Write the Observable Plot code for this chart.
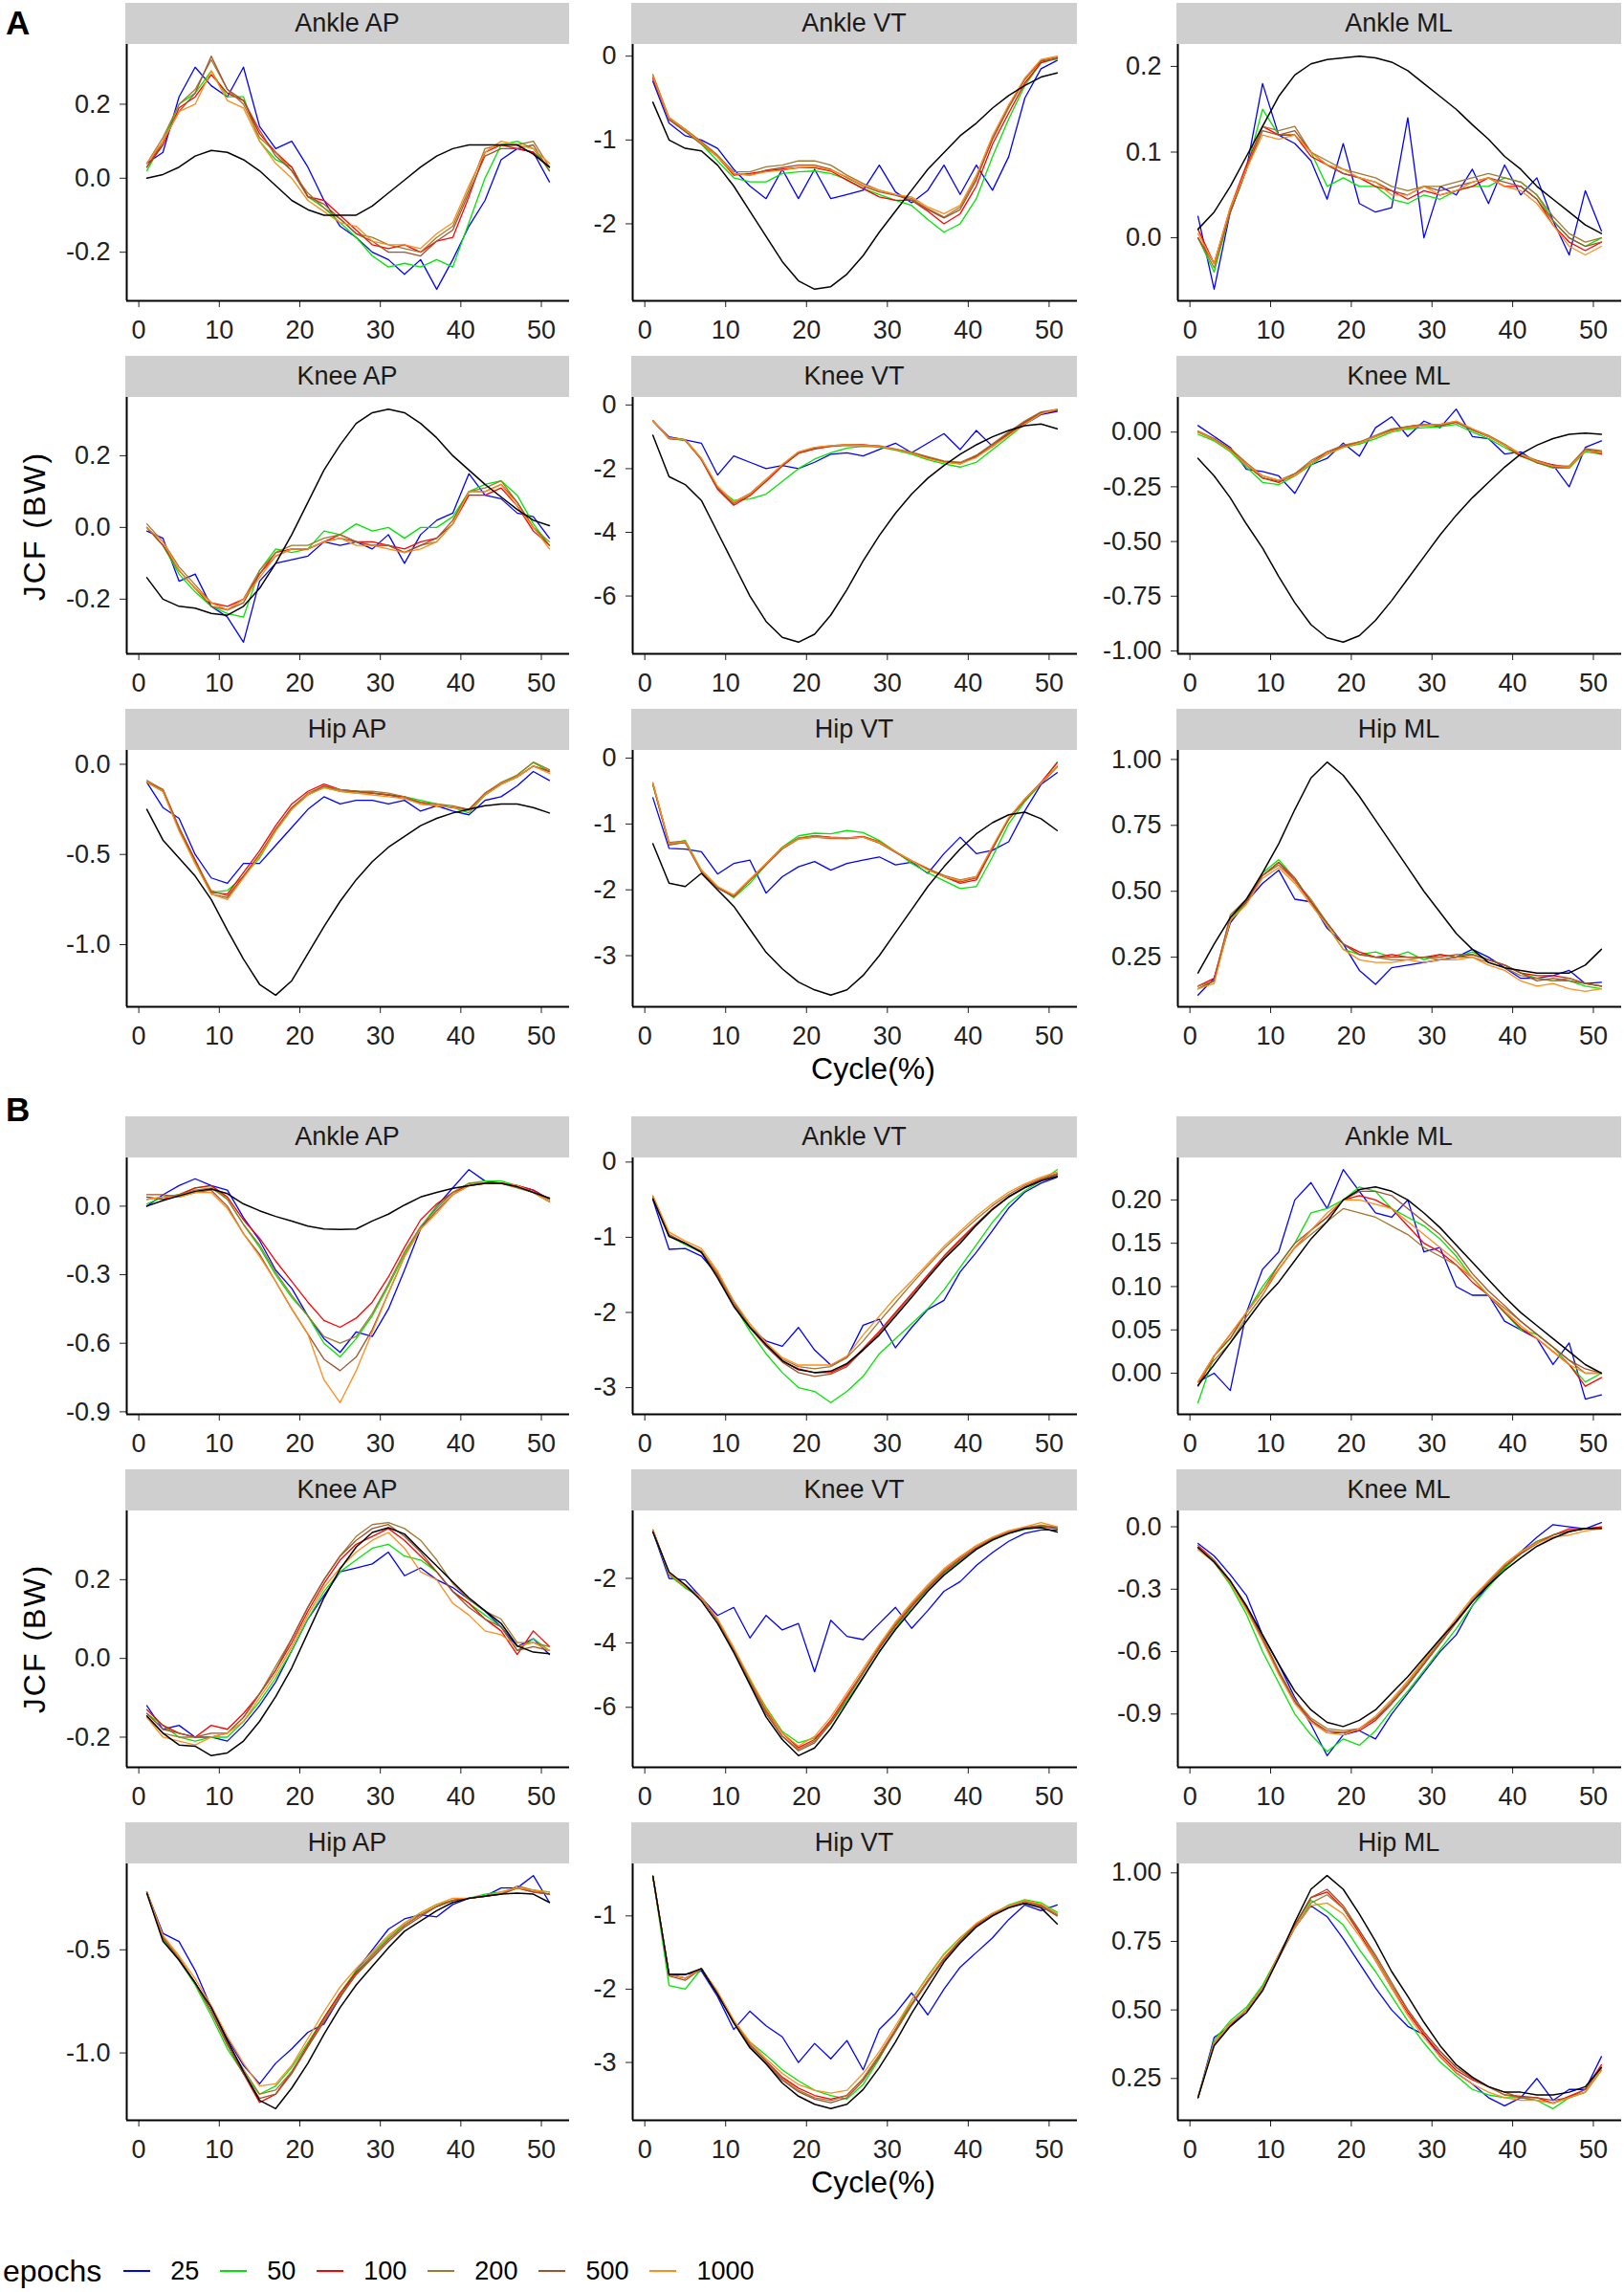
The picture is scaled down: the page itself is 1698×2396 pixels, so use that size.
<!DOCTYPE html>
<html><head><meta charset="utf-8">
<script src="https://cdn.jsdelivr.net/npm/d3@7"></script>
<script src="https://cdn.jsdelivr.net/npm/@observablehq/plot@0.6"></script>
<style>
body{margin:0;background:#fff;}
#root{position:relative;width:1698px;height:2396px;font-family:"Liberation Sans",Arial,sans-serif;color:#000;overflow:hidden;background:#fff}
.strip{position:absolute;background:#cfcfcf;height:43px;display:flex;align-items:center;justify-content:center;font-size:27px;color:#1a1a1a;line-height:1}
.wrap{position:absolute}
.lab{position:absolute;white-space:nowrap;line-height:1}
</style></head><body><div id="root"></div>
<script>
// ---------------- DATA ----------------
var cycle = [1,3,5,7,9,11,13,15,17,19,21,23,25,27,29,31,33,35,37,39,41,43,45,47,49,51];
var cycleTicks = [0,10,20,30,40,50];
var epochs = ["25","50","100","200","500","1000"];
var epochColors = ["#0000ff","#00e600","#ff0000","#a07830","#a0522d","#ff8c1a"];
var joints = ["Ankle","Knee","Hip"];
var directions = ["AP","VT","ML"];

// ===== A =====
var A_AnkleAP_truth=[0.0,0.01,0.03,0.06,0.075,0.07,0.05,0.02,-0.02,-0.06,-0.085,-0.1,-0.1,-0.1,-0.075,-0.04,-0.005,0.03,0.06,0.08,0.09,0.09,0.09,0.09,0.065,0.03];
var A_AnkleAP_e25=[0.04,0.07,0.22,0.3,0.25,0.22,0.3,0.14,0.08,0.1,0.03,-0.06,-0.13,-0.16,-0.2,-0.22,-0.26,-0.22,-0.3,-0.22,-0.13,-0.06,0.05,0.08,0.07,-0.01];
var A_AnkleAP_e50=[0.02,0.1,0.2,0.23,0.29,0.22,0.22,0.1,0.05,0.03,-0.05,-0.08,-0.12,-0.16,-0.21,-0.24,-0.23,-0.24,-0.22,-0.24,-0.12,0.0,0.09,0.1,0.08,0.02];
var A_AnkleAP_e100=[0.03,0.09,0.19,0.22,0.28,0.23,0.21,0.12,0.07,0.03,-0.05,-0.06,-0.1,-0.14,-0.18,-0.19,-0.18,-0.2,-0.17,-0.16,-0.05,0.07,0.09,0.08,0.07,0.03];
var A_AnkleAP_e200=[0.04,0.11,0.2,0.24,0.32,0.24,0.2,0.11,0.07,0.02,-0.04,-0.08,-0.11,-0.15,-0.16,-0.18,-0.19,-0.2,-0.16,-0.13,-0.03,0.08,0.09,0.09,0.1,0.03];
var A_AnkleAP_e500=[0.03,0.1,0.18,0.23,0.33,0.24,0.21,0.13,0.06,0.02,-0.05,-0.07,-0.11,-0.15,-0.17,-0.2,-0.2,-0.21,-0.17,-0.14,-0.04,0.06,0.08,0.08,0.09,0.02];
var A_AnkleAP_e1000=[0.04,0.1,0.18,0.2,0.29,0.21,0.19,0.1,0.04,0.0,-0.06,-0.09,-0.12,-0.13,-0.17,-0.18,-0.18,-0.19,-0.15,-0.12,-0.02,0.07,0.1,0.09,0.08,0.04];
var A_AnkleAP_ticks=[-0.2,0,0.2]; var A_AnkleAP_labels=["-0.2","0.0","0.2"];

var A_AnkleVT_truth=[-0.55,-1.0,-1.1,-1.13,-1.3,-1.55,-1.85,-2.15,-2.45,-2.68,-2.78,-2.75,-2.6,-2.38,-2.1,-1.85,-1.6,-1.35,-1.15,-0.95,-0.8,-0.62,-0.47,-0.35,-0.25,-0.2];
var A_AnkleVT_e25=[-0.3,-0.8,-0.95,-1.0,-1.1,-1.35,-1.55,-1.7,-1.35,-1.7,-1.35,-1.7,-1.65,-1.6,-1.3,-1.62,-1.75,-1.6,-1.3,-1.65,-1.3,-1.6,-1.2,-0.5,-0.15,-0.05];
var A_AnkleVT_e50=[-0.25,-0.75,-0.9,-1.05,-1.25,-1.45,-1.5,-1.5,-1.4,-1.38,-1.37,-1.4,-1.47,-1.58,-1.65,-1.72,-1.78,-1.95,-2.1,-2.0,-1.7,-1.2,-0.75,-0.35,-0.08,-0.03];
var A_AnkleVT_e100=[-0.27,-0.75,-0.88,-1.03,-1.2,-1.42,-1.4,-1.37,-1.35,-1.33,-1.33,-1.37,-1.48,-1.58,-1.68,-1.72,-1.72,-1.85,-2.0,-1.88,-1.55,-1.05,-0.68,-0.32,-0.08,-0.02];
var A_AnkleVT_e200=[-0.22,-0.73,-0.87,-1.02,-1.18,-1.38,-1.38,-1.32,-1.3,-1.25,-1.25,-1.3,-1.42,-1.52,-1.6,-1.65,-1.7,-1.82,-1.92,-1.8,-1.45,-1.0,-0.62,-0.28,-0.05,-0.01];
var A_AnkleVT_e500=[-0.25,-0.76,-0.9,-1.05,-1.2,-1.4,-1.42,-1.36,-1.33,-1.3,-1.3,-1.35,-1.45,-1.55,-1.62,-1.66,-1.72,-1.83,-1.93,-1.83,-1.48,-0.98,-0.6,-0.27,-0.06,-0.03];
var A_AnkleVT_e1000=[-0.24,-0.74,-0.88,-1.04,-1.2,-1.4,-1.42,-1.38,-1.36,-1.33,-1.32,-1.36,-1.44,-1.54,-1.6,-1.65,-1.68,-1.8,-1.88,-1.78,-1.42,-0.95,-0.58,-0.26,-0.04,0.0];
var A_AnkleVT_ticks=[-2,-1,0]; var A_AnkleVT_labels=["-2","-1","0"];

var A_AnkleML_truth=[0.01,0.03,0.06,0.095,0.13,0.165,0.19,0.203,0.208,0.21,0.212,0.21,0.205,0.195,0.18,0.165,0.15,0.132,0.115,0.095,0.08,0.06,0.045,0.03,0.015,0.005];
var A_AnkleML_e25=[0.025,-0.06,0.03,0.08,0.18,0.12,0.11,0.09,0.045,0.11,0.04,0.03,0.035,0.14,0.0,0.06,0.05,0.08,0.04,0.085,0.05,0.07,0.02,-0.02,0.055,0.008];
var A_AnkleML_e50=[0.0,-0.04,0.03,0.08,0.15,0.12,0.12,0.1,0.06,0.07,0.06,0.06,0.045,0.04,0.05,0.045,0.055,0.06,0.06,0.07,0.065,0.05,0.02,0.0,-0.01,0.0];
var A_AnkleML_e100=[0.01,-0.03,0.035,0.085,0.13,0.12,0.12,0.095,0.085,0.075,0.07,0.06,0.055,0.045,0.055,0.05,0.055,0.06,0.07,0.06,0.06,0.045,0.015,-0.005,-0.015,-0.005];
var A_AnkleML_e200=[0.0,-0.035,0.03,0.08,0.13,0.125,0.13,0.1,0.09,0.08,0.075,0.07,0.06,0.055,0.06,0.06,0.065,0.07,0.075,0.07,0.065,0.05,0.025,0.005,-0.005,0.0];
var A_AnkleML_e500=[0.0,-0.03,0.03,0.08,0.125,0.12,0.125,0.1,0.085,0.075,0.07,0.065,0.055,0.05,0.06,0.055,0.06,0.065,0.07,0.065,0.06,0.045,0.02,0.0,-0.01,-0.005];
var A_AnkleML_e1000=[0.005,-0.03,0.035,0.08,0.12,0.115,0.12,0.1,0.085,0.08,0.07,0.065,0.05,0.05,0.06,0.05,0.055,0.065,0.07,0.06,0.055,0.04,0.015,-0.01,-0.02,-0.01];
var A_AnkleML_ticks=[0,0.1,0.2]; var A_AnkleML_labels=["0.0","0.1","0.2"];

var A_KneeAP_truth=[-0.14,-0.2,-0.22,-0.225,-0.24,-0.245,-0.22,-0.17,-0.1,-0.02,0.07,0.16,0.23,0.29,0.32,0.33,0.32,0.29,0.25,0.2,0.16,0.12,0.085,0.05,0.02,0.005];
var A_KneeAP_e25=[-0.01,-0.03,-0.15,-0.13,-0.22,-0.25,-0.32,-0.15,-0.1,-0.09,-0.08,-0.04,-0.05,-0.04,-0.06,-0.02,-0.1,-0.02,0.02,0.04,0.15,0.09,0.08,0.04,0.03,-0.03];
var A_KneeAP_e50=[0.0,-0.05,-0.13,-0.18,-0.22,-0.24,-0.25,-0.12,-0.06,-0.07,-0.06,-0.01,-0.02,0.01,-0.01,0.0,-0.03,0.0,0.0,0.03,0.1,0.12,0.13,0.09,0.01,-0.05];
var A_KneeAP_e100=[0.0,-0.05,-0.12,-0.17,-0.21,-0.22,-0.2,-0.13,-0.07,-0.06,-0.06,-0.04,-0.02,-0.04,-0.04,-0.05,-0.06,-0.04,-0.03,0.01,0.09,0.09,0.11,0.06,-0.01,-0.05];
var A_KneeAP_e200=[0.01,-0.04,-0.11,-0.16,-0.21,-0.23,-0.2,-0.12,-0.07,-0.05,-0.05,-0.03,-0.02,-0.04,-0.05,-0.05,-0.07,-0.05,-0.04,0.01,0.1,0.11,0.13,0.07,0.0,-0.04];
var A_KneeAP_e500=[0.0,-0.05,-0.12,-0.17,-0.22,-0.23,-0.21,-0.13,-0.08,-0.06,-0.06,-0.04,-0.03,-0.04,-0.05,-0.05,-0.07,-0.05,-0.03,0.02,0.1,0.1,0.12,0.07,0.0,-0.05];
var A_KneeAP_e1000=[0.0,-0.04,-0.12,-0.17,-0.21,-0.23,-0.2,-0.14,-0.08,-0.06,-0.06,-0.04,-0.03,-0.05,-0.05,-0.06,-0.07,-0.06,-0.04,0.01,0.1,0.1,0.12,0.06,0.0,-0.06];
var A_KneeAP_ticks=[-0.2,0,0.2]; var A_KneeAP_labels=["-0.2","0.0","0.2"];

var A_KneeVT_truth=[-0.95,-2.25,-2.5,-3.0,-4.0,-5.0,-6.0,-6.8,-7.3,-7.45,-7.2,-6.6,-5.8,-4.9,-4.1,-3.4,-2.8,-2.3,-1.9,-1.55,-1.25,-1.0,-0.8,-0.65,-0.6,-0.75];
var A_KneeVT_e25=[-0.5,-1.0,-1.1,-1.2,-2.2,-1.6,-1.8,-2.0,-1.9,-2.0,-1.8,-1.55,-1.5,-1.6,-1.4,-1.2,-1.5,-1.2,-0.9,-1.4,-0.8,-1.3,-0.9,-0.6,-0.3,-0.2];
var A_KneeVT_e50=[-0.5,-1.05,-1.12,-1.7,-2.6,-3.0,-2.95,-2.8,-2.4,-2.0,-1.7,-1.5,-1.35,-1.3,-1.32,-1.42,-1.55,-1.72,-1.85,-1.95,-1.8,-1.4,-1.0,-0.6,-0.25,-0.15];
var A_KneeVT_e100=[-0.5,-1.05,-1.1,-1.72,-2.65,-3.15,-2.85,-2.4,-1.92,-1.52,-1.38,-1.3,-1.25,-1.25,-1.3,-1.4,-1.5,-1.65,-1.78,-1.85,-1.62,-1.3,-0.92,-0.55,-0.25,-0.17];
var A_KneeVT_e200=[-0.5,-1.03,-1.08,-1.68,-2.58,-3.05,-2.78,-2.33,-1.88,-1.48,-1.34,-1.28,-1.24,-1.26,-1.28,-1.38,-1.48,-1.62,-1.76,-1.8,-1.58,-1.22,-0.85,-0.5,-0.22,-0.14];
var A_KneeVT_e500=[-0.5,-1.06,-1.1,-1.7,-2.62,-3.1,-2.82,-2.36,-1.9,-1.5,-1.36,-1.3,-1.27,-1.28,-1.3,-1.4,-1.5,-1.66,-1.78,-1.83,-1.6,-1.25,-0.88,-0.53,-0.24,-0.15];
var A_KneeVT_e1000=[-0.5,-1.04,-1.1,-1.68,-2.55,-3.05,-2.8,-2.35,-1.87,-1.47,-1.33,-1.28,-1.25,-1.27,-1.3,-1.4,-1.52,-1.68,-1.8,-1.85,-1.65,-1.3,-0.95,-0.6,-0.28,-0.13];
var A_KneeVT_ticks=[-6,-4,-2,0]; var A_KneeVT_labels=["-6","-4","-2","0"];

var A_KneeML_truth=[-0.12,-0.2,-0.3,-0.42,-0.53,-0.66,-0.78,-0.88,-0.94,-0.96,-0.93,-0.86,-0.77,-0.67,-0.57,-0.47,-0.38,-0.3,-0.23,-0.16,-0.1,-0.06,-0.03,-0.01,-0.005,-0.01];
var A_KneeML_e25=[0.03,-0.02,-0.07,-0.17,-0.18,-0.2,-0.28,-0.15,-0.12,-0.05,-0.11,0.02,0.07,-0.02,0.05,0.02,0.105,-0.02,-0.03,-0.1,-0.09,-0.14,-0.15,-0.25,-0.07,-0.04];
var A_KneeML_e50=[-0.01,-0.04,-0.09,-0.16,-0.23,-0.24,-0.2,-0.15,-0.1,-0.07,-0.055,-0.03,0.0,0.015,0.02,0.025,0.035,0.0,-0.03,-0.07,-0.11,-0.14,-0.165,-0.165,-0.09,-0.1];
var A_KneeML_e100=[0.0,-0.03,-0.08,-0.15,-0.21,-0.23,-0.19,-0.14,-0.09,-0.065,-0.045,-0.02,0.01,0.025,0.035,0.03,0.045,0.01,-0.02,-0.06,-0.11,-0.13,-0.15,-0.16,-0.08,-0.1];
var A_KneeML_e200=[0.005,-0.03,-0.075,-0.14,-0.2,-0.22,-0.19,-0.13,-0.09,-0.06,-0.045,-0.015,0.015,0.025,0.035,0.035,0.05,0.015,-0.015,-0.055,-0.1,-0.13,-0.155,-0.155,-0.075,-0.085];
var A_KneeML_e500=[0.0,-0.035,-0.08,-0.15,-0.21,-0.225,-0.2,-0.14,-0.1,-0.065,-0.05,-0.02,0.01,0.02,0.03,0.03,0.045,0.01,-0.02,-0.06,-0.105,-0.14,-0.16,-0.16,-0.08,-0.09];
var A_KneeML_e1000=[0.0,-0.035,-0.085,-0.15,-0.2,-0.22,-0.2,-0.14,-0.1,-0.07,-0.05,-0.02,0.005,0.02,0.03,0.035,0.05,0.015,-0.02,-0.06,-0.1,-0.135,-0.155,-0.16,-0.085,-0.095];
var A_KneeML_ticks=[-1,-0.75,-0.5,-0.25,0]; var A_KneeML_labels=["-1.00","-0.75","-0.50","-0.25","0.00"];

var A_HipAP_truth=[-0.25,-0.42,-0.52,-0.62,-0.75,-0.92,-1.08,-1.22,-1.28,-1.2,-1.05,-0.9,-0.76,-0.64,-0.54,-0.46,-0.4,-0.34,-0.3,-0.27,-0.25,-0.23,-0.22,-0.22,-0.24,-0.27];
var A_HipAP_e25=[-0.1,-0.24,-0.3,-0.5,-0.63,-0.66,-0.55,-0.55,-0.45,-0.35,-0.25,-0.18,-0.22,-0.2,-0.2,-0.22,-0.2,-0.26,-0.23,-0.26,-0.28,-0.2,-0.18,-0.12,-0.04,-0.09];
var A_HipAP_e50=[-0.1,-0.15,-0.36,-0.55,-0.71,-0.7,-0.62,-0.52,-0.37,-0.25,-0.17,-0.13,-0.15,-0.16,-0.16,-0.17,-0.18,-0.2,-0.22,-0.24,-0.27,-0.17,-0.11,-0.06,0.01,-0.04];
var A_HipAP_e100=[-0.1,-0.14,-0.35,-0.53,-0.71,-0.72,-0.6,-0.48,-0.34,-0.22,-0.15,-0.11,-0.14,-0.15,-0.16,-0.17,-0.18,-0.22,-0.23,-0.24,-0.25,-0.16,-0.11,-0.07,-0.01,-0.04];
var A_HipAP_e200=[-0.09,-0.14,-0.35,-0.54,-0.7,-0.73,-0.62,-0.5,-0.36,-0.24,-0.16,-0.12,-0.14,-0.15,-0.15,-0.16,-0.18,-0.21,-0.22,-0.23,-0.25,-0.16,-0.1,-0.06,0.012,-0.03];
var A_HipAP_e500=[-0.1,-0.15,-0.36,-0.54,-0.72,-0.74,-0.62,-0.5,-0.36,-0.24,-0.17,-0.12,-0.15,-0.15,-0.16,-0.17,-0.19,-0.21,-0.23,-0.24,-0.25,-0.17,-0.11,-0.07,-0.01,-0.04];
var A_HipAP_e1000=[-0.1,-0.15,-0.37,-0.55,-0.72,-0.75,-0.63,-0.51,-0.37,-0.25,-0.17,-0.13,-0.15,-0.16,-0.17,-0.18,-0.19,-0.22,-0.23,-0.24,-0.26,-0.17,-0.11,-0.07,-0.01,-0.05];
var A_HipAP_ticks=[-1,-0.5,0]; var A_HipAP_labels=["-1.0","-0.5","0.0"];

var A_HipVT_truth=[-1.3,-1.9,-1.95,-1.75,-2.0,-2.25,-2.6,-2.95,-3.2,-3.4,-3.52,-3.6,-3.52,-3.3,-3.0,-2.65,-2.3,-1.95,-1.65,-1.38,-1.15,-0.98,-0.86,-0.82,-0.92,-1.1];
var A_HipVT_e25=[-0.6,-1.37,-1.38,-1.42,-1.76,-1.6,-1.55,-2.05,-1.8,-1.65,-1.57,-1.7,-1.6,-1.55,-1.5,-1.62,-1.58,-1.75,-1.45,-1.2,-1.45,-1.4,-1.27,-0.8,-0.4,-0.22];
var A_HipVT_e50=[-0.4,-1.3,-1.25,-1.7,-1.95,-2.12,-1.9,-1.62,-1.35,-1.18,-1.14,-1.15,-1.1,-1.13,-1.25,-1.42,-1.6,-1.74,-1.86,-1.98,-1.95,-1.5,-1.0,-0.66,-0.38,-0.06];
var A_HipVT_e100=[-0.38,-1.3,-1.28,-1.72,-1.97,-2.1,-1.85,-1.6,-1.36,-1.22,-1.18,-1.2,-1.21,-1.19,-1.27,-1.42,-1.56,-1.68,-1.8,-1.9,-1.85,-1.38,-0.92,-0.62,-0.37,-0.07];
var A_HipVT_e200=[-0.39,-1.28,-1.26,-1.71,-1.96,-2.08,-1.84,-1.6,-1.36,-1.21,-1.18,-1.21,-1.22,-1.2,-1.28,-1.43,-1.57,-1.68,-1.78,-1.85,-1.8,-1.35,-0.92,-0.63,-0.38,-0.13];
var A_HipVT_e500=[-0.4,-1.32,-1.28,-1.73,-1.97,-2.1,-1.86,-1.62,-1.38,-1.23,-1.2,-1.22,-1.22,-1.2,-1.29,-1.43,-1.57,-1.69,-1.8,-1.88,-1.82,-1.36,-0.93,-0.64,-0.39,-0.13];
var A_HipVT_e1000=[-0.37,-1.3,-1.27,-1.7,-1.95,-2.08,-1.84,-1.6,-1.36,-1.23,-1.2,-1.21,-1.21,-1.2,-1.28,-1.42,-1.56,-1.7,-1.8,-1.86,-1.8,-1.34,-0.9,-0.62,-0.38,-0.12];
var A_HipVT_ticks=[-3,-2,-1,0]; var A_HipVT_labels=["-3","-2","-1","0"];

var A_HipML_truth=[0.19,0.3,0.4,0.47,0.57,0.68,0.81,0.93,0.99,0.94,0.86,0.77,0.68,0.59,0.5,0.42,0.34,0.28,0.23,0.21,0.2,0.19,0.19,0.19,0.22,0.28];
var A_HipML_e25=[0.106,0.17,0.38,0.46,0.53,0.58,0.47,0.46,0.36,0.3,0.2,0.147,0.21,0.22,0.23,0.24,0.25,0.28,0.25,0.21,0.17,0.17,0.18,0.2,0.15,0.155];
var A_HipML_e50=[0.13,0.16,0.39,0.46,0.57,0.62,0.55,0.46,0.37,0.28,0.26,0.27,0.25,0.27,0.24,0.26,0.25,0.27,0.24,0.22,0.19,0.17,0.16,0.16,0.14,0.13];
var A_HipML_e100=[0.14,0.17,0.4,0.46,0.56,0.61,0.54,0.46,0.38,0.3,0.27,0.25,0.26,0.25,0.25,0.26,0.25,0.26,0.24,0.22,0.19,0.18,0.18,0.17,0.15,0.14];
var A_HipML_e200=[0.14,0.16,0.41,0.47,0.56,0.6,0.54,0.47,0.38,0.3,0.26,0.25,0.24,0.24,0.25,0.24,0.25,0.25,0.23,0.21,0.18,0.17,0.16,0.17,0.15,0.14];
var A_HipML_e500=[0.13,0.16,0.4,0.46,0.56,0.61,0.55,0.46,0.38,0.3,0.26,0.25,0.25,0.25,0.25,0.25,0.26,0.26,0.24,0.22,0.19,0.16,0.17,0.16,0.15,0.14];
var A_HipML_e1000=[0.13,0.15,0.39,0.45,0.55,0.59,0.53,0.45,0.37,0.28,0.24,0.23,0.23,0.24,0.23,0.24,0.24,0.25,0.22,0.2,0.16,0.14,0.15,0.13,0.12,0.13];
var A_HipML_ticks=[0.25,0.5,0.75,1]; var A_HipML_labels=["0.25","0.50","0.75","1.00"];

// ===== B =====
var B_AnkleAP_truth=[0.0,0.025,0.045,0.065,0.075,0.055,0.01,-0.02,-0.045,-0.065,-0.087,-0.1,-0.102,-0.1,-0.065,-0.035,0.005,0.04,0.06,0.078,0.09,0.1,0.1,0.085,0.06,0.035];
var B_AnkleAP_e25=[0.0,0.05,0.09,0.12,0.09,0.07,-0.05,-0.15,-0.28,-0.36,-0.48,-0.58,-0.64,-0.55,-0.57,-0.45,-0.28,-0.1,0.0,0.08,0.16,0.11,0.1,0.09,0.07,0.03];
var B_AnkleAP_e50=[0.01,0.04,0.05,0.08,0.09,0.03,-0.08,-0.18,-0.3,-0.4,-0.48,-0.6,-0.66,-0.58,-0.48,-0.35,-0.21,-0.09,0.0,0.06,0.1,0.11,0.11,0.09,0.06,0.02];
var B_AnkleAP_e100=[0.04,0.03,0.05,0.08,0.09,0.04,-0.06,-0.14,-0.24,-0.33,-0.42,-0.5,-0.53,-0.49,-0.42,-0.31,-0.18,-0.06,0.01,0.06,0.09,0.1,0.1,0.09,0.07,0.03];
var B_AnkleAP_e200=[0.03,0.04,0.05,0.07,0.08,0.03,-0.08,-0.17,-0.29,-0.39,-0.48,-0.57,-0.6,-0.57,-0.47,-0.34,-0.2,-0.09,-0.01,0.06,0.1,0.1,0.1,0.08,0.06,0.03];
var B_AnkleAP_e500=[0.05,0.05,0.04,0.06,0.07,0.0,-0.12,-0.21,-0.33,-0.45,-0.56,-0.67,-0.72,-0.66,-0.54,-0.38,-0.22,-0.1,-0.02,0.05,0.09,0.1,0.1,0.09,0.06,0.02];
var B_AnkleAP_e1000=[0.03,0.04,0.04,0.06,0.06,-0.01,-0.12,-0.22,-0.33,-0.45,-0.56,-0.76,-0.86,-0.72,-0.55,-0.38,-0.22,-0.1,-0.03,0.05,0.09,0.1,0.1,0.09,0.06,0.02];
var B_AnkleAP_ticks=[-0.9,-0.6,-0.3,0]; var B_AnkleAP_labels=["-0.9","-0.6","-0.3","0.0"];

var B_AnkleVT_truth=[-0.49,-0.99,-1.08,-1.2,-1.54,-1.92,-2.2,-2.43,-2.64,-2.76,-2.8,-2.78,-2.68,-2.5,-2.3,-2.05,-1.8,-1.54,-1.29,-1.08,-0.84,-0.63,-0.46,-0.34,-0.25,-0.19];
var B_AnkleVT_e25=[-0.5,-1.16,-1.15,-1.25,-1.5,-1.85,-2.2,-2.38,-2.45,-2.2,-2.5,-2.7,-2.6,-2.17,-2.09,-2.47,-2.2,-1.96,-1.84,-1.46,-1.2,-0.91,-0.61,-0.4,-0.28,-0.2];
var B_AnkleVT_e50=[-0.47,-0.98,-1.1,-1.2,-1.5,-1.9,-2.25,-2.55,-2.8,-3.0,-3.05,-3.2,-3.05,-2.85,-2.55,-2.35,-2.15,-1.95,-1.7,-1.4,-1.1,-0.8,-0.55,-0.38,-0.25,-0.1];
var B_AnkleVT_e100=[-0.47,-0.97,-1.08,-1.2,-1.5,-1.9,-2.2,-2.45,-2.65,-2.75,-2.8,-2.8,-2.7,-2.48,-2.25,-2.0,-1.75,-1.5,-1.25,-1.03,-0.82,-0.62,-0.46,-0.33,-0.23,-0.16];
var B_AnkleVT_e200=[-0.45,-0.96,-1.08,-1.18,-1.48,-1.88,-2.18,-2.42,-2.62,-2.72,-2.75,-2.72,-2.6,-2.38,-2.12,-1.87,-1.62,-1.38,-1.15,-0.95,-0.76,-0.58,-0.43,-0.31,-0.22,-0.15];
var B_AnkleVT_e500=[-0.47,-0.97,-1.08,-1.2,-1.52,-1.9,-2.2,-2.45,-2.66,-2.8,-2.85,-2.82,-2.72,-2.5,-2.27,-2.02,-1.77,-1.52,-1.27,-1.05,-0.83,-0.63,-0.47,-0.34,-0.24,-0.17];
var B_AnkleVT_e1000=[-0.45,-0.93,-1.05,-1.15,-1.45,-1.85,-2.15,-2.4,-2.6,-2.7,-2.7,-2.7,-2.58,-2.3,-2.05,-1.8,-1.58,-1.35,-1.12,-0.92,-0.72,-0.55,-0.4,-0.29,-0.2,-0.13];
var B_AnkleVT_ticks=[-3,-2,-1,0]; var B_AnkleVT_labels=["-3","-2","-1","0"];

var B_AnkleML_truth=[-0.014,0.01,0.035,0.06,0.085,0.105,0.13,0.155,0.175,0.2,0.212,0.215,0.21,0.2,0.185,0.168,0.148,0.128,0.108,0.088,0.07,0.055,0.04,0.025,0.01,0.0];
var B_AnkleML_e25=[-0.01,0.0,-0.02,0.07,0.12,0.14,0.2,0.22,0.19,0.235,0.21,0.185,0.18,0.2,0.14,0.145,0.1,0.09,0.09,0.06,0.05,0.04,0.01,0.035,-0.03,-0.025];
var B_AnkleML_e50=[-0.034,0.02,0.04,0.07,0.1,0.125,0.15,0.185,0.19,0.2,0.215,0.21,0.19,0.18,0.17,0.155,0.135,0.11,0.09,0.07,0.05,0.045,0.03,0.01,-0.01,0.0];
var B_AnkleML_e100=[-0.015,0.02,0.045,0.07,0.095,0.12,0.145,0.165,0.18,0.2,0.205,0.2,0.19,0.17,0.15,0.14,0.125,0.105,0.09,0.07,0.052,0.04,0.025,0.01,-0.015,-0.005];
var B_AnkleML_e200=[-0.01,0.015,0.035,0.065,0.09,0.12,0.145,0.16,0.175,0.19,0.185,0.18,0.17,0.16,0.145,0.135,0.125,0.11,0.09,0.075,0.06,0.045,0.03,0.015,0.0,0.0];
var B_AnkleML_e500=[-0.01,0.02,0.04,0.07,0.095,0.125,0.15,0.165,0.18,0.2,0.21,0.21,0.205,0.19,0.175,0.16,0.14,0.115,0.095,0.078,0.06,0.045,0.03,0.015,0.005,0.0];
var B_AnkleML_e1000=[-0.01,0.02,0.045,0.07,0.095,0.12,0.145,0.165,0.185,0.2,0.2,0.195,0.19,0.175,0.16,0.145,0.13,0.11,0.09,0.072,0.055,0.04,0.025,0.01,0.0,0.0];
var B_AnkleML_ticks=[0,0.05,0.1,0.15,0.2]; var B_AnkleML_labels=["0.00","0.05","0.10","0.15","0.20"];

var B_KneeAP_truth=[-0.146,-0.19,-0.22,-0.223,-0.247,-0.24,-0.21,-0.16,-0.097,-0.024,0.065,0.154,0.227,0.283,0.32,0.332,0.316,0.275,0.235,0.194,0.154,0.121,0.089,0.032,0.016,0.012];
var B_KneeAP_e25=[-0.12,-0.18,-0.17,-0.2,-0.2,-0.21,-0.17,-0.12,-0.06,0.02,0.1,0.16,0.22,0.23,0.24,0.27,0.21,0.23,0.2,0.18,0.15,0.12,0.08,0.03,0.05,0.01];
var B_KneeAP_e50=[-0.14,-0.17,-0.2,-0.21,-0.2,-0.2,-0.16,-0.11,-0.05,0.02,0.1,0.17,0.22,0.25,0.28,0.29,0.26,0.25,0.22,0.17,0.14,0.11,0.08,0.02,0.05,0.02];
var B_KneeAP_e100=[-0.13,-0.17,-0.19,-0.2,-0.17,-0.18,-0.14,-0.09,-0.03,0.04,0.12,0.19,0.25,0.29,0.31,0.33,0.3,0.26,0.22,0.17,0.14,0.1,0.07,0.01,0.07,0.03];
var B_KneeAP_e200=[-0.15,-0.19,-0.2,-0.2,-0.2,-0.19,-0.15,-0.09,-0.02,0.05,0.13,0.2,0.26,0.31,0.34,0.345,0.33,0.3,0.25,0.19,0.15,0.12,0.1,0.04,0.04,0.03];
var B_KneeAP_e500=[-0.14,-0.18,-0.19,-0.2,-0.19,-0.19,-0.15,-0.09,-0.03,0.05,0.13,0.2,0.26,0.3,0.33,0.34,0.31,0.27,0.22,0.17,0.13,0.1,0.08,0.02,0.03,0.02];
var B_KneeAP_e1000=[-0.15,-0.2,-0.21,-0.22,-0.2,-0.19,-0.16,-0.1,-0.04,0.03,0.11,0.18,0.23,0.27,0.3,0.32,0.28,0.22,0.2,0.14,0.11,0.07,0.06,0.03,0.04,0.02];
var B_KneeAP_ticks=[-0.2,0,0.2]; var B_KneeAP_labels=["-0.2","0.0","0.2"];

var B_KneeVT_truth=[-0.56,-1.8,-2.2,-2.7,-3.4,-4.3,-5.3,-6.3,-7.0,-7.5,-7.26,-6.66,-5.87,-5.08,-4.28,-3.59,-2.99,-2.4,-1.9,-1.5,-1.1,-0.81,-0.61,-0.46,-0.43,-0.56];
var B_KneeVT_e25=[-0.55,-2.0,-2.05,-2.6,-3.15,-2.9,-3.85,-3.15,-3.6,-3.4,-4.9,-3.3,-3.8,-3.9,-3.4,-2.9,-3.55,-3.0,-2.4,-2.1,-1.6,-1.2,-0.85,-0.6,-0.5,-0.5];
var B_KneeVT_e50=[-0.5,-1.9,-2.3,-2.6,-3.3,-4.2,-5.15,-6.0,-6.75,-7.1,-6.95,-6.5,-5.8,-5.05,-4.3,-3.55,-2.9,-2.35,-1.85,-1.45,-1.1,-0.82,-0.6,-0.48,-0.4,-0.45];
var B_KneeVT_e100=[-0.5,-1.85,-2.25,-2.6,-3.3,-4.2,-5.2,-6.1,-6.8,-7.25,-7.0,-6.4,-5.65,-4.9,-4.15,-3.45,-2.85,-2.3,-1.8,-1.4,-1.05,-0.78,-0.58,-0.45,-0.38,-0.45];
var B_KneeVT_e200=[-0.5,-1.85,-2.2,-2.6,-3.3,-4.2,-5.2,-6.15,-6.9,-7.3,-7.05,-6.45,-5.7,-4.9,-4.1,-3.4,-2.8,-2.25,-1.75,-1.35,-1.0,-0.75,-0.55,-0.42,-0.35,-0.4];
var B_KneeVT_e500=[-0.5,-1.87,-2.25,-2.62,-3.32,-4.25,-5.25,-6.2,-6.9,-7.35,-7.1,-6.5,-5.72,-4.95,-4.18,-3.48,-2.88,-2.32,-1.82,-1.42,-1.06,-0.78,-0.58,-0.44,-0.38,-0.43];
var B_KneeVT_e1000=[-0.5,-1.85,-2.25,-2.6,-3.25,-4.15,-5.1,-6.05,-6.8,-7.2,-6.9,-6.3,-5.55,-4.8,-4.05,-3.35,-2.75,-2.2,-1.7,-1.32,-0.98,-0.72,-0.52,-0.4,-0.27,-0.4];
var B_KneeVT_ticks=[-6,-4,-2]; var B_KneeVT_labels=["-6","-4","-2"];

var B_KneeML_truth=[-0.1,-0.17,-0.26,-0.38,-0.52,-0.66,-0.79,-0.88,-0.94,-0.96,-0.93,-0.88,-0.8,-0.72,-0.63,-0.54,-0.455,-0.36,-0.28,-0.21,-0.15,-0.094,-0.055,-0.024,-0.008,-0.008];
var B_KneeML_e25=[-0.08,-0.14,-0.23,-0.33,-0.52,-0.66,-0.82,-0.95,-1.1,-1.0,-0.98,-1.02,-0.9,-0.8,-0.7,-0.6,-0.52,-0.38,-0.28,-0.2,-0.12,-0.05,0.01,0.0,-0.01,0.02];
var B_KneeML_e50=[-0.1,-0.17,-0.28,-0.42,-0.6,-0.75,-0.9,-1.0,-1.08,-1.02,-1.05,-0.98,-0.88,-0.79,-0.69,-0.59,-0.49,-0.38,-0.29,-0.2,-0.13,-0.07,-0.04,-0.02,-0.01,0.0];
var B_KneeML_e100=[-0.09,-0.16,-0.26,-0.39,-0.54,-0.7,-0.84,-0.93,-0.99,-0.99,-0.98,-0.93,-0.85,-0.76,-0.66,-0.56,-0.46,-0.36,-0.27,-0.19,-0.13,-0.08,-0.04,-0.01,-0.01,0.0];
var B_KneeML_e200=[-0.1,-0.16,-0.26,-0.38,-0.53,-0.69,-0.83,-0.92,-0.97,-0.98,-0.97,-0.92,-0.84,-0.75,-0.65,-0.55,-0.45,-0.35,-0.26,-0.18,-0.12,-0.07,-0.04,-0.02,-0.01,-0.01];
var B_KneeML_e500=[-0.1,-0.17,-0.27,-0.39,-0.54,-0.7,-0.84,-0.93,-0.98,-0.99,-0.97,-0.92,-0.85,-0.76,-0.66,-0.56,-0.46,-0.36,-0.27,-0.19,-0.13,-0.08,-0.04,-0.02,-0.01,-0.01];
var B_KneeML_e1000=[-0.11,-0.17,-0.27,-0.4,-0.55,-0.71,-0.85,-0.94,-0.99,-1.0,-0.97,-0.91,-0.83,-0.74,-0.64,-0.54,-0.44,-0.34,-0.26,-0.18,-0.12,-0.08,-0.05,-0.04,-0.02,-0.01];
var B_KneeML_ticks=[-0.9,-0.6,-0.3,0]; var B_KneeML_labels=["-0.9","-0.6","-0.3","0.0"];

var B_HipAP_truth=[-0.226,-0.458,-0.55,-0.66,-0.78,-0.94,-1.09,-1.23,-1.27,-1.17,-1.05,-0.91,-0.78,-0.67,-0.58,-0.49,-0.41,-0.36,-0.31,-0.27,-0.25,-0.24,-0.23,-0.225,-0.23,-0.27];
var B_HipAP_e25=[-0.22,-0.42,-0.46,-0.6,-0.78,-0.93,-1.06,-1.15,-1.05,-0.98,-0.9,-0.86,-0.73,-0.6,-0.5,-0.4,-0.35,-0.33,-0.34,-0.28,-0.25,-0.24,-0.2,-0.2,-0.14,-0.27];
var B_HipAP_e50=[-0.22,-0.45,-0.55,-0.67,-0.82,-0.98,-1.1,-1.2,-1.16,-1.07,-0.95,-0.83,-0.71,-0.6,-0.52,-0.44,-0.37,-0.32,-0.28,-0.26,-0.25,-0.23,-0.22,-0.2,-0.21,-0.22];
var B_HipAP_e100=[-0.22,-0.44,-0.54,-0.66,-0.8,-0.96,-1.1,-1.24,-1.2,-1.09,-0.96,-0.83,-0.71,-0.61,-0.53,-0.45,-0.38,-0.33,-0.29,-0.26,-0.25,-0.24,-0.23,-0.2,-0.22,-0.23];
var B_HipAP_e200=[-0.22,-0.44,-0.54,-0.66,-0.8,-0.95,-1.08,-1.2,-1.18,-1.09,-0.97,-0.84,-0.72,-0.62,-0.53,-0.45,-0.38,-0.33,-0.29,-0.26,-0.25,-0.24,-0.23,-0.19,-0.21,-0.23];
var B_HipAP_e500=[-0.22,-0.44,-0.55,-0.66,-0.8,-0.96,-1.1,-1.22,-1.2,-1.1,-0.97,-0.85,-0.73,-0.62,-0.54,-0.46,-0.39,-0.34,-0.29,-0.26,-0.25,-0.24,-0.23,-0.2,-0.22,-0.23];
var B_HipAP_e1000=[-0.22,-0.43,-0.53,-0.64,-0.77,-0.92,-1.05,-1.16,-1.15,-1.06,-0.93,-0.8,-0.68,-0.59,-0.51,-0.43,-0.37,-0.32,-0.28,-0.25,-0.25,-0.24,-0.22,-0.2,-0.21,-0.22];
var B_HipAP_ticks=[-1,-0.5]; var B_HipAP_labels=["-1.0","-0.5"];

var B_HipVT_truth=[-0.46,-1.8,-1.8,-1.72,-2.07,-2.46,-2.8,-3.02,-3.28,-3.46,-3.57,-3.63,-3.57,-3.37,-3.07,-2.72,-2.33,-1.98,-1.63,-1.37,-1.15,-1.0,-0.89,-0.83,-0.89,-1.11];
var B_HipVT_e25=[-0.46,-1.8,-1.8,-1.75,-2.1,-2.55,-2.3,-2.5,-2.65,-3.0,-2.74,-2.95,-2.7,-3.1,-2.55,-2.33,-2.05,-2.35,-2.0,-1.7,-1.5,-1.3,-1.05,-0.85,-0.93,-0.85];
var B_HipVT_e50=[-0.45,-1.95,-2.0,-1.72,-2.05,-2.45,-2.72,-2.9,-3.1,-3.25,-3.38,-3.45,-3.5,-3.3,-2.95,-2.55,-2.15,-1.82,-1.52,-1.3,-1.12,-0.98,-0.85,-0.78,-0.82,-0.95];
var B_HipVT_e100=[-0.46,-1.8,-1.85,-1.72,-2.05,-2.45,-2.75,-2.98,-3.2,-3.35,-3.45,-3.5,-3.45,-3.22,-2.9,-2.55,-2.2,-1.88,-1.58,-1.33,-1.12,-0.98,-0.88,-0.8,-0.85,-0.98];
var B_HipVT_e200=[-0.46,-1.8,-1.85,-1.72,-2.05,-2.45,-2.76,-3.0,-3.22,-3.38,-3.48,-3.52,-3.45,-3.22,-2.9,-2.55,-2.2,-1.88,-1.58,-1.34,-1.13,-0.98,-0.88,-0.8,-0.86,-0.98];
var B_HipVT_e500=[-0.46,-1.82,-1.88,-1.72,-2.05,-2.46,-2.78,-3.02,-3.24,-3.4,-3.5,-3.55,-3.48,-3.25,-2.93,-2.58,-2.22,-1.9,-1.6,-1.35,-1.14,-0.99,-0.89,-0.82,-0.87,-1.0];
var B_HipVT_e1000=[-0.46,-1.8,-1.85,-1.72,-2.03,-2.42,-2.72,-2.95,-3.15,-3.3,-3.38,-3.42,-3.38,-3.15,-2.85,-2.5,-2.15,-1.83,-1.53,-1.3,-1.1,-0.96,-0.86,-0.79,-0.84,-0.97];
var B_HipVT_ticks=[-3,-2,-1]; var B_HipVT_labels=["-3","-2","-1"];

var B_HipML_truth=[0.18,0.37,0.44,0.49,0.57,0.69,0.82,0.94,0.99,0.94,0.85,0.75,0.64,0.55,0.455,0.37,0.3,0.255,0.22,0.2,0.2,0.19,0.19,0.2,0.22,0.29];
var B_HipML_e25=[0.18,0.4,0.44,0.5,0.58,0.69,0.8,0.88,0.84,0.76,0.67,0.58,0.5,0.44,0.41,0.33,0.27,0.23,0.18,0.15,0.18,0.25,0.17,0.21,0.21,0.33];
var B_HipML_e50=[0.18,0.39,0.46,0.51,0.59,0.7,0.81,0.9,0.86,0.81,0.72,0.64,0.55,0.46,0.38,0.31,0.26,0.21,0.19,0.18,0.18,0.17,0.14,0.18,0.2,0.28];
var B_HipML_e100=[0.18,0.38,0.45,0.5,0.58,0.7,0.81,0.91,0.93,0.87,0.78,0.68,0.58,0.49,0.41,0.34,0.28,0.245,0.22,0.19,0.185,0.18,0.16,0.185,0.21,0.3];
var B_HipML_e200=[0.18,0.38,0.45,0.5,0.58,0.69,0.8,0.89,0.92,0.87,0.79,0.69,0.59,0.5,0.42,0.35,0.29,0.25,0.22,0.19,0.18,0.17,0.16,0.18,0.2,0.28];
var B_HipML_e500=[0.18,0.38,0.45,0.5,0.58,0.7,0.81,0.91,0.94,0.88,0.79,0.7,0.6,0.5,0.42,0.35,0.29,0.25,0.22,0.2,0.18,0.18,0.17,0.18,0.21,0.29];
var B_HipML_e1000=[0.18,0.38,0.45,0.5,0.58,0.7,0.8,0.88,0.89,0.85,0.77,0.68,0.58,0.48,0.4,0.33,0.27,0.23,0.2,0.18,0.17,0.17,0.16,0.18,0.2,0.28];
var B_HipML_ticks=[0.25,0.5,0.75,1]; var B_HipML_labels=["0.25","0.50","0.75","1.00"];

// ---------------- LAYOUT ----------------
const FONT = '"Liberation Sans", Arial, sans-serif';
const colLeft = [132, 661, 1231], colRight = [595, 1126, 1695];
const stripTop = {A: [3, 372, 741], B: [1167, 1536, 1905]};
const STRIP_H = 43, PANEL_H = 268, ML = 95, MB = 55;
const root = document.getElementById("root");
function add(tag, cls, css, text) {
  const e = document.createElement(tag);
  if (cls) e.className = cls;
  e.style.cssText = css;
  if (text != null) e.textContent = text;
  root.appendChild(e);
  return e;
}

for (const set of ["A", "B"]) {
  for (let r = 0; r < 3; r++) {
    for (let c = 0; c < 3; c++) {
      const key = `${set}_${joints[r]}${directions[c]}`;
      const top = stripTop[set][r];
      const w = colRight[c] - colLeft[c];
      add("div", "strip", `left:${colLeft[c] - 1}px;top:${top}px;width:${w + 1}px;`, `${joints[r]} ${directions[c]}`);

      const rows = [];
      epochs.forEach(e => window[`${key}_e${e}`].forEach((v, k) => rows.push({x: cycle[k], y: v, epoch: e})));
      const truth = window[`${key}_truth`].map((v, k) => ({x: cycle[k], y: v}));
      const allY = rows.map(d => d.y).concat(truth.map(d => d.y));
      const [lo, hi] = d3.extent(allY);
      const pad = (hi - lo) * 0.05;
      const yDomain = [lo - pad, hi + pad];
      const xr = d3.max(cycle) - d3.min(cycle);
      const xDomain = [d3.min(cycle) - xr * 0.05, d3.max(cycle) + xr * 0.05];
      const ticks = window[`${key}_ticks`], labels = window[`${key}_labels`];

      const svg = Plot.plot({
        width: w + ML, height: PANEL_H + MB,
        marginLeft: ML, marginRight: 0, marginTop: 0, marginBottom: MB,
        x: {domain: xDomain},
        y: {domain: yDomain},
        color: {type: "ordinal", domain: epochs, range: epochColors},
        style: {fontFamily: FONT, fontSize: "27px", color: "#222", background: "transparent", overflow: "visible"},
        marks: [
          Plot.line(rows, {x: "x", y: "y", z: "epoch", stroke: "epoch", strokeWidth: 1.3}),
          Plot.line(truth, {x: "x", y: "y", stroke: "black", strokeWidth: 1.5}),
          Plot.axisX({ticks: cycleTicks, tickSize: 7, tickPadding: 13, tickFormat: d => String(d), label: null, fontSize: 27}),
          Plot.axisY({ticks: ticks, tickSize: 7, tickPadding: 10, label: null, fontSize: 27,
                      tickFormat: d => labels[ticks.findIndex(t => Math.abs(t - d) < 1e-9)]}),
          Plot.ruleX([xDomain[0]], {stroke: "black", strokeWidth: 2}),
          Plot.ruleY([yDomain[0]], {stroke: "black", strokeWidth: 2})
        ]
      });
      const wrap = add("div", "wrap", `left:${colLeft[c] - ML}px;top:${top + STRIP_H}px;width:${w + ML}px;height:${PANEL_H + MB}px;`);
      wrap.appendChild(svg);
    }
  }
}

// panel letters
add("div", "lab", "left:6px;top:6px;font-size:35px;font-weight:bold;", "A");
add("div", "lab", "left:6px;top:1142px;font-size:35px;font-weight:bold;", "B");
// y titles
for (const cy of [550, 1713]) {
  add("div", "lab", `left:36px;top:${cy}px;font-size:32px;letter-spacing:2px;transform:translate(-50%,-50%) rotate(-90deg);`, "JCF (BW)");
}
// x titles
for (const cy of [1117, 2281]) {
  add("div", "lab", `left:913px;top:${cy}px;font-size:32px;transform:translate(-50%,-50%);`, "Cycle(%)");
}
// legend
const leg = add("div", "lab", "left:3px;top:2358px;display:flex;align-items:center;font-size:27px;", null);
const title = document.createElement("span");
title.textContent = "epochs"; title.style.cssText = "font-size:32px;margin-right:23px;";
leg.appendChild(title);
epochs.forEach((e, i) => {
  const ln = document.createElement("span");
  ln.style.cssText = `display:inline-block;width:28px;height:2.5px;background:${epochColors[i]};margin-right:21px;`;
  const tx = document.createElement("span");
  tx.textContent = e; tx.style.cssText = "margin-right:22px;";
  leg.appendChild(ln); leg.appendChild(tx);
});
</script></body></html>
